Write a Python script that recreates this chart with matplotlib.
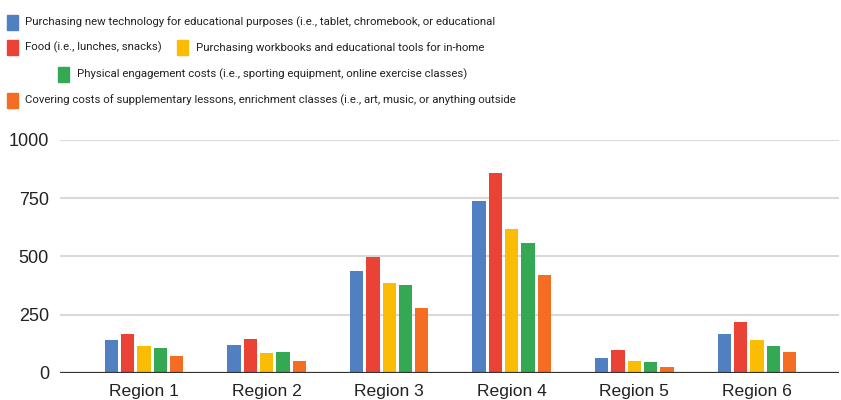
import numpy as np
import matplotlib
matplotlib.use("Agg")
import matplotlib.pyplot as plt
from matplotlib.patches import Rectangle

regions = ["Region 1", "Region 2", "Region 3", "Region 4", "Region 5", "Region 6"]
series_names = [
    "Purchasing new technology for educational purposes (i.e., tablet, chromebook, or educational",
    "Food (i.e., lunches, snacks)",
    "Purchasing workbooks and educational tools for in-home",
    "Physical engagement costs (i.e., sporting equipment, online exercise classes)",
    "Covering costs of supplementary lessons, enrichment classes (i.e., art, music, or anything outside",
]
technology = [140, 120, 437, 736, 64, 165]
food = [165, 146, 496, 857, 97, 218]
workbooks = [115, 83, 387, 616, 52, 140]
physical = [107, 89, 375, 557, 46, 115]
lessons = [70, 52, 279, 418, 26, 89]
series = [technology, food, workbooks, physical, lessons]
colors = ["#5080c1", "#ea4335", "#fbbc04", "#34a853", "#f46d22"]
yticks = [0, 250, 500, 750, 1000]

W, H = 841, 400
fig = plt.figure(figsize=(W / 100, H / 100), dpi=100)
ax = fig.add_axes([60 / W, (H - 372.7) / H, (839 - 60) / W, (372.7 - 140) / H])

x = np.arange(len(regions))
step = 0.133
width = 0.109
for i, (vals, col) in enumerate(zip(series, colors)):
    ax.bar(x + (i - 2) * step, vals, width, color=col, zorder=3)

ax.set_xlim(-0.686, 5.67)
ax.set_ylim(0, 1000)
ax.set_yticks(yticks)
ax.set_xticks(x)
ax.set_xticklabels(regions)
ax.yaxis.grid(True, color="#d9d9d9", linewidth=1.5, zorder=0)
ax.axhline(0, color="#333333", linewidth=1.6, zorder=4)
for s in ax.spines.values():
    s.set_visible(False)
ax.tick_params(axis="both", length=0, labelcolor="#222222",
               labelfontfamily="Liberation Sans")
ax.tick_params(axis="y", pad=8, labelsize=13)
ax.tick_params(axis="x", pad=8, labelsize=12.6)

# legend drawn by hand: rows of colour squares and labels
rows = [
    (0, 7, 25, 22.5),
    (1, 7, 25, 47.5),
    (2, 177, 196, 47.5),
    (3, 58, 77, 74),
    (4, 7, 25, 100.5),
]
for idx, sx, tx, cy in rows:
    fig.add_artist(Rectangle((sx / W, (H - cy - 7.5) / H), 10.7 / W, 15 / H,
                             transform=fig.transFigure, color=colors[idx]))
    fig.text(tx / W, (H - cy) / H, series_names[idx], ha="left", va="center",
             fontsize=8.2, color="#222222", family="Roboto")

fig.savefig("out.png", dpi=100)
